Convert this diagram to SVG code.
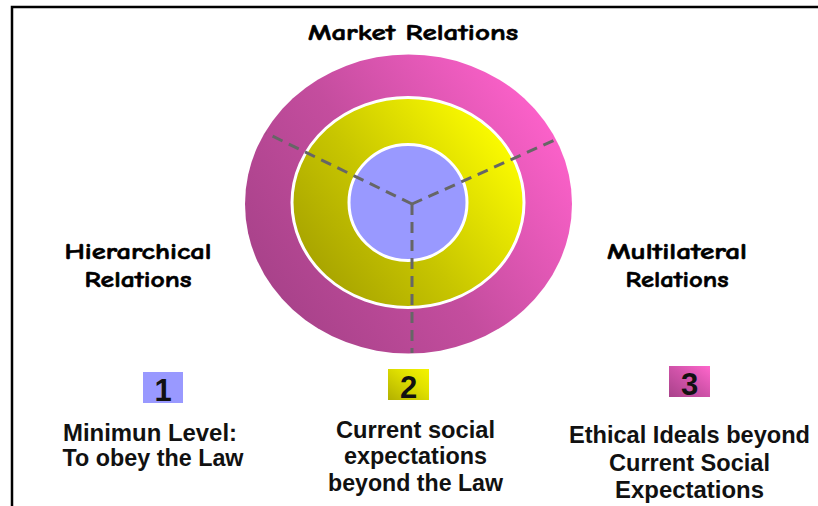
<svg xmlns="http://www.w3.org/2000/svg" width="818" height="506" viewBox="0 0 818 506">
<defs>
<linearGradient id="gPink" x1="0.05" y1="0.75" x2="0.95" y2="0.2">
<stop offset="0" stop-color="#a8428a"/>
<stop offset="0.45" stop-color="#c44d9e"/>
<stop offset="1" stop-color="#ff62cc"/>
</linearGradient>
<linearGradient id="gYellow" x1="0.05" y1="0.8" x2="0.9" y2="0.2">
<stop offset="0" stop-color="#a6a200"/>
<stop offset="0.45" stop-color="#c8c600"/>
<stop offset="1" stop-color="#fafa00"/>
</linearGradient>
<linearGradient id="gBox2" x1="0" y1="1" x2="1" y2="0">
<stop offset="0" stop-color="#b2b000"/>
<stop offset="0.6" stop-color="#e0e000"/>
<stop offset="1" stop-color="#f4f400"/>
</linearGradient>
<linearGradient id="gBox3" x1="0" y1="1" x2="1" y2="0">
<stop offset="0" stop-color="#a8428a"/>
<stop offset="0.5" stop-color="#cf52a8"/>
<stop offset="1" stop-color="#ff66cc"/>
</linearGradient>
</defs>
<style>
.title{font-family:"Comic Sans MS","Comic Neue","DejaVu Sans",sans-serif;font-weight:bold;font-size:23px;fill:#000;text-anchor:middle;stroke:#000;stroke-width:0.6}
.lbl{font-family:"Liberation Sans",Arial,sans-serif;font-weight:bold;font-size:24px;fill:#111;text-anchor:middle}
.num{font-family:"Liberation Sans",Arial,sans-serif;font-weight:bold;font-size:31px;fill:#111;text-anchor:middle}
.dash{fill:none;stroke:#666;stroke-width:3;stroke-dasharray:11 7}
.ring{stroke:#fff;stroke-width:3}
</style>
<rect width="818" height="506" fill="#fff"/>
<path d="M12 506 V7 H818" fill="none" stroke="#000" stroke-width="2.5"/>

<g id="outer-ring">
<ellipse cx="408.5" cy="204" rx="163.5" ry="149.5" fill="url(#gPink)"/>
</g>
<g id="middle-ring">
<ellipse class="ring" cx="408" cy="202.5" rx="116" ry="105" fill="url(#gYellow)"/>
</g>
<g id="inner-circle">
<ellipse class="ring" cx="408" cy="202.5" rx="59" ry="58" fill="#9999ff"/>
</g>

<g id="connectors">
<path class="dash" d="M412 204 L266 133"/>
<path class="dash" d="M412 204 L557 139"/>
<path class="dash" d="M412 204 L412 353"/>
</g>

<g id="market-relations">
<text class="title" x="413" y="40" textLength="210" lengthAdjust="spacingAndGlyphs">Market Relations</text>
</g>
<g id="hierarchical-relations">
<text class="title" x="138" y="259" textLength="147" lengthAdjust="spacingAndGlyphs">Hierarchical</text>
<text class="title" x="138" y="287" textLength="107" lengthAdjust="spacingAndGlyphs">Relations</text>
</g>
<g id="multilateral-relations">
<text class="title" x="677" y="259" textLength="140" lengthAdjust="spacingAndGlyphs">Multilateral</text>
<text class="title" x="677" y="287" textLength="103" lengthAdjust="spacingAndGlyphs">Relations</text>
</g>

<g id="level-1">
<rect x="143" y="372" width="40" height="31" fill="#9999ff"/>
<text class="num" x="163" y="401">1</text>
<text class="lbl" x="150" y="441" textLength="174" lengthAdjust="spacingAndGlyphs">Minimun Level:</text>
<text class="lbl" x="153" y="466" textLength="181" lengthAdjust="spacingAndGlyphs">To obey the Law</text>
</g>
<g id="level-2">
<rect x="388" y="369" width="41" height="31" fill="url(#gBox2)"/>
<text class="num" x="408.5" y="398">2</text>
<text class="lbl" x="415.5" y="438" textLength="159" lengthAdjust="spacingAndGlyphs">Current social</text>
<text class="lbl" x="415.5" y="464" textLength="143" lengthAdjust="spacingAndGlyphs">expectations</text>
<text class="lbl" x="415.5" y="491" textLength="175" lengthAdjust="spacingAndGlyphs">beyond the Law</text>
</g>
<g id="level-3">
<rect x="669" y="366" width="41" height="31" fill="url(#gBox3)"/>
<text class="num" x="689.5" y="395">3</text>
<text class="lbl" x="689.5" y="443" textLength="241" lengthAdjust="spacingAndGlyphs">Ethical Ideals beyond</text>
<text class="lbl" x="689.5" y="471" textLength="161" lengthAdjust="spacingAndGlyphs">Current Social</text>
<text class="lbl" x="689.5" y="498" textLength="149" lengthAdjust="spacingAndGlyphs">Expectations</text>
</g>
</svg>
